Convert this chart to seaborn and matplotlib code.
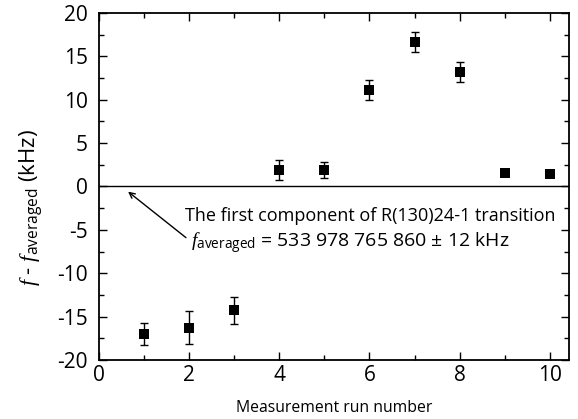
import numpy as np
import pandas as pd
import matplotlib
matplotlib.use("Agg")
import matplotlib.pyplot as plt
import seaborn as sns

# measurement runs and offsets from the averaged frequency (kHz)
runs = [1, 2, 3, 4, 5, 6, 7, 8, 9, 10]
offset = [-17.0, -16.3, -14.3, 1.9, 1.9, 11.1, 16.7, 13.2, 1.6, 1.4]
err = [1.25, 1.9, 1.6, 1.1, 0.95, 1.15, 1.15, 1.2, 0.3, 0.3]

df = pd.DataFrame({"run": runs, "offset": offset, "err": err})

sns.set_style("ticks")
plt.rcParams["font.family"] = ["Open Sans", "DejaVu Sans"]
plt.rcParams["axes.unicode_minus"] = False
plt.rcParams["text.color"] = "black"
plt.rcParams["axes.labelcolor"] = "black"
plt.rcParams["mathtext.fontset"] = "custom"
plt.rcParams["mathtext.rm"] = "Open Sans"
plt.rcParams["mathtext.it"] = "Liberation Serif:italic"

fig, ax = plt.subplots(figsize=(5.78, 4.19), dpi=100)
fig.subplots_adjust(left=0.171, right=0.984, top=0.969, bottom=0.141)

ax.errorbar(df["run"], df["offset"], yerr=df["err"], fmt="none",
            ecolor="black", elinewidth=1.0, capsize=3, capthick=1.0, zorder=2)
sns.scatterplot(data=df, x="run", y="offset", marker="s", s=42,
                color="black", edgecolor="black", linewidth=0, ax=ax, zorder=3)

ax.axhline(0, color="black", linewidth=1.0, zorder=1)

ax.set_xlim(0, 10.42)
ax.set_ylim(-20, 20)
ax.set_xticks([0, 2, 4, 6, 8, 10])
ax.set_xticks(np.arange(1, 11, 2), minor=True)
ax.set_yticks(np.arange(-20, 21, 5))
ax.set_yticks(np.arange(-17.5, 20, 5), minor=True)
ax.tick_params(which="both", direction="in", top=True, right=True,
               labelsize=15, width=1.0, colors="black")
ax.tick_params(which="major", length=6)
ax.tick_params(which="minor", length=3.5)
ax.tick_params(axis="x", pad=4)
ax.tick_params(axis="y", pad=8)
for sp in ax.spines.values():
    sp.set_linewidth(1.3)
    sp.set_color("black")

ax.set_xlabel("Measurement run number", fontsize=11.3, labelpad=10)
ax.set_ylabel(r"$\mathit{f}$ - $\mathit{f}_{\mathrm{averaged}}$ (kHz)",
              fontsize=16)
ax.yaxis.set_label_coords(-0.115, 0.44)

ax.annotate("", xy=(0.6, -0.4), xytext=(1.98, -6.1),
            arrowprops=dict(arrowstyle="->", color="black", lw=1.0))
ax.text(1.9, -3.4, "The first component of R(130)24-1 transition",
        fontsize=13, va="center", ha="left")
ax.text(2.05, -6.5, r"$\mathit{f}_{\mathrm{averaged}}$ = 533 978 765 860 ± 12 kHz",
        fontsize=14, va="center", ha="left")

fig.savefig("out.png", dpi=100)
